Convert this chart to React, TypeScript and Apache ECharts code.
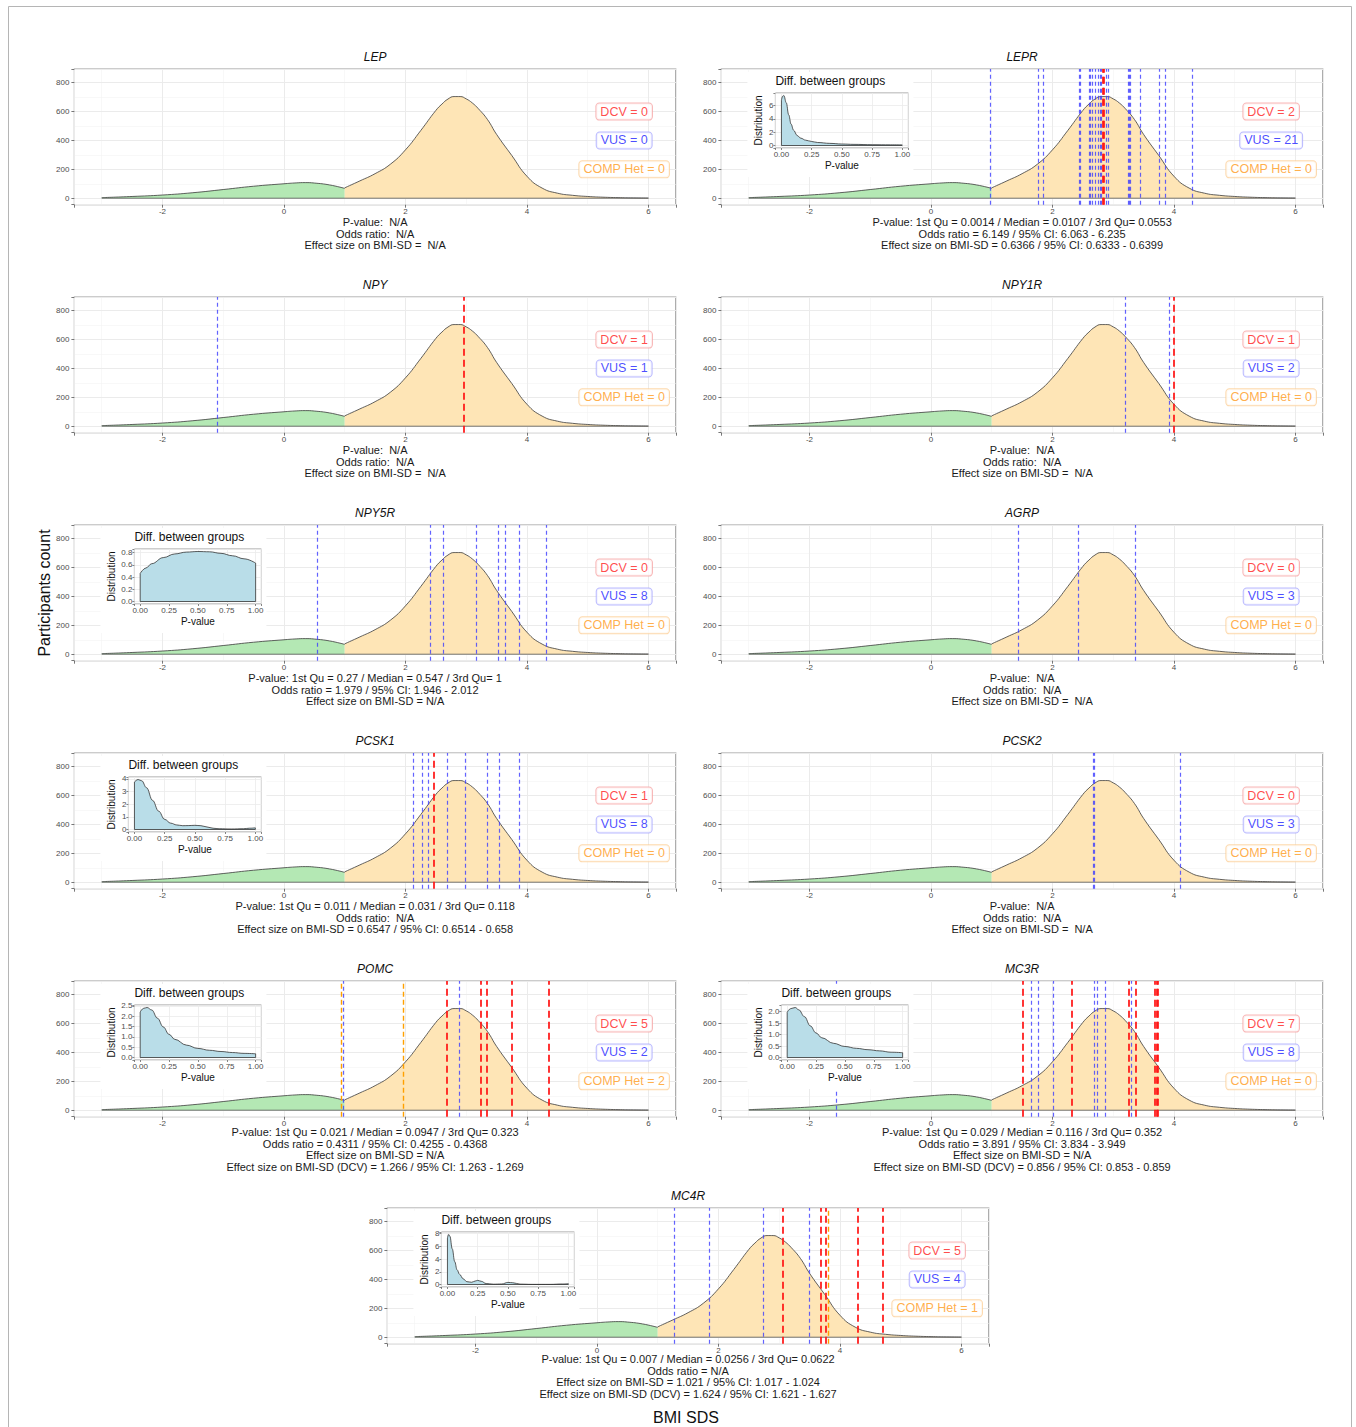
import { useEffect, useRef } from "react";
import * as echarts from "echarts";

const FONT = '"Liberation Sans", Arial, Helvetica, sans-serif';

// ---- Shared BMI SDS distribution (participants count) ----
const BMI_LOW_X = [-3, -2.5, -2, -1.5, -1, -0.5, 0, 0.2, 0.35, 0.5, 0.75, 1];
const BMI_LOW_Y = [4, 12, 22, 38, 60, 83, 100, 106, 108, 105, 92, 68];
const BMI_HIGH_X = [1, 1.25, 1.5, 1.75, 2, 2.25, 2.5, 2.6, 2.7, 2.8, 2.9, 3, 3.1, 3.2, 3.35, 3.5, 3.75, 4, 4.25, 4.5, 4.75, 5, 5.25, 5.5, 5.75, 6];
const BMI_HIGH_Y = [72, 120, 170, 235, 335, 468, 608, 652, 687, 704, 704, 688, 660, 620, 545, 442, 296, 152, 70, 35, 20, 12, 7, 4, 2, 1];

// ---- Genes and variant positions (BMI SDS) ----
const GENES = ["LEP", "LEPR", "NPY", "NPY1R", "NPY5R", "AGRP", "PCSK1", "PCSK2", "POMC", "MC3R", "MC4R"];

const DCV: number[][] = [
  [],
  [2.82, 2.85],
  [2.96],
  [3.99],
  [],
  [],
  [2.47],
  [],
  [2.68, 3.24, 3.34, 3.75, 4.36],
  [1.51, 2.31, 3.25, 3.37, 3.69, 3.71, 3.73],
  [3.05, 3.68, 3.76, 4.29, 4.71],
];

const VUS: number[][] = [
  [],
  [0.98, 1.76, 1.85, 2.44, 2.46, 2.6, 2.63, 2.66, 2.71, 2.75, 2.78, 2.8, 2.88, 2.92, 3.25, 3.26, 3.28, 3.44, 3.75, 3.85, 4.3],
  [-1.1],
  [3.2, 3.92],
  [0.54, 2.4, 2.62, 3.16, 3.53, 3.65, 3.88, 4.31],
  [1.44, 2.42, 3.36],
  [2.13, 2.28, 2.38, 2.68, 2.99, 3.34, 3.54, 3.88],
  [2.67, 2.69, 4.1],
  [0.97, 2.88],
  [-1.56, 1.65, 1.76, 2.01, 2.69, 2.74, 2.87, 3.29],
  [1.28, 1.85, 2.73, 3.49],
];

const COMP_HET: number[][] = [[], [], [], [], [], [], [], [], [0.94, 1.97], [], [3.81]];

const NA3 = ["P-value:  N/A", "Odds ratio:  N/A", "Effect size on BMI-SD =  N/A"];
const STATS: string[][] = [
  NA3,
  [
    "P-value: 1st Qu = 0.0014 / Median = 0.0107 / 3rd Qu= 0.0553",
    "Odds ratio = 6.149 / 95% CI: 6.063 - 6.235",
    "Effect size on BMI-SD = 0.6366 / 95% CI: 0.6333 - 0.6399",
  ],
  NA3,
  NA3,
  [
    "P-value: 1st Qu = 0.27 / Median = 0.547 / 3rd Qu= 1",
    "Odds ratio = 1.979 / 95% CI: 1.946 - 2.012",
    "Effect size on BMI-SD = N/A",
  ],
  NA3,
  [
    "P-value: 1st Qu = 0.011 / Median = 0.031 / 3rd Qu= 0.118",
    "Odds ratio:  N/A",
    "Effect size on BMI-SD = 0.6547 / 95% CI: 0.6514 - 0.658",
  ],
  NA3,
  [
    "P-value: 1st Qu = 0.021 / Median = 0.0947 / 3rd Qu= 0.323",
    "Odds ratio = 0.4311 / 95% CI: 0.4255 - 0.4368",
    "Effect size on BMI-SD = N/A",
    "Effect size on BMI-SD (DCV) = 1.266 / 95% CI: 1.263 - 1.269",
  ],
  [
    "P-value: 1st Qu = 0.029 / Median = 0.116 / 3rd Qu= 0.352",
    "Odds ratio = 3.891 / 95% CI: 3.834 - 3.949",
    "Effect size on BMI-SD = N/A",
    "Effect size on BMI-SD (DCV) = 0.856 / 95% CI: 0.853 - 0.859",
  ],
  [
    "P-value: 1st Qu = 0.007 / Median = 0.0256 / 3rd Qu= 0.0622",
    "Odds ratio = N/A",
    "Effect size on BMI-SD = 1.021 / 95% CI: 1.017 - 1.024",
    "Effect size on BMI-SD (DCV) = 1.624 / 95% CI: 1.621 - 1.627",
  ],
];

// ---- Inset p-value distributions ----
const LEPR_PV = [0, 0.01, 0.02, 0.04, 0.06, 0.08, 0.1, 0.13, 0.16, 0.2, 0.25, 0.3, 0.4, 0.5, 0.6, 0.75, 0.9, 1.0];
const LEPR_DEN = [6.8, 7.4, 7.5, 6.4, 4.6, 3.2, 2.3, 1.5, 1.1, 0.8, 0.6, 0.45, 0.32, 0.22, 0.17, 0.12, 0.1, 0.09];
const NPY5R_PV = [0, 0.05, 0.1, 0.2, 0.3, 0.4, 0.5, 0.6, 0.7, 0.8, 0.9, 1.0];
const NPY5R_DEN = [0.46, 0.55, 0.62, 0.72, 0.78, 0.81, 0.82, 0.815, 0.79, 0.75, 0.7, 0.63];
const PCSK1_PV = [0, 0.03, 0.06, 0.1, 0.15, 0.2, 0.25, 0.3, 0.35, 0.4, 0.45, 0.5, 0.55, 0.6, 0.65, 0.7, 0.8, 0.9, 0.95, 1.0];
const PCSK1_DEN = [3.75, 3.95, 3.85, 3.3, 2.3, 1.45, 0.8, 0.5, 0.36, 0.3, 0.31, 0.33, 0.3, 0.2, 0.1, 0.06, 0.04, 0.06, 0.1, 0.13];
const POMC_PV = [0, 0.03, 0.06, 0.1, 0.15, 0.2, 0.25, 0.3, 0.4, 0.5, 0.6, 0.7, 0.8, 0.9, 1.0];
const POMC_DEN = [2.2, 2.38, 2.42, 2.3, 1.9, 1.48, 1.12, 0.88, 0.6, 0.44, 0.35, 0.29, 0.24, 0.2, 0.18];
const MC3R_PV = [0, 0.03, 0.07, 0.1, 0.15, 0.2, 0.25, 0.3, 0.4, 0.5, 0.6, 0.7, 0.8, 0.9, 1.0];
const MC3R_DEN = [1.97, 2.13, 2.18, 2.08, 1.78, 1.38, 1.07, 0.86, 0.62, 0.48, 0.4, 0.34, 0.29, 0.23, 0.21];
const MC4R_PV = [0, 0.01, 0.02, 0.04, 0.06, 0.08, 0.1, 0.13, 0.16, 0.2, 0.23, 0.25, 0.28, 0.32, 0.38, 0.45, 0.5, 0.54, 0.6, 0.7, 0.85, 0.95, 1.0];
const MC4R_DEN = [7.3, 7.86, 7.6, 5.6, 3.6, 2.3, 1.6, 0.9, 0.45, 0.35, 0.55, 0.65, 0.5, 0.15, 0.05, 0.08, 0.33, 0.28, 0.06, 0.02, 0.02, 0.08, 0.13];

const INSET_GENES = ["LEPR", "NPY5R", "PCSK1", "POMC", "MC3R", "MC4R"];
const INSET_PV = [LEPR_PV, NPY5R_PV, PCSK1_PV, POMC_PV, MC3R_PV, MC4R_PV];
const INSET_DEN = [LEPR_DEN, NPY5R_DEN, PCSK1_DEN, POMC_DEN, MC3R_DEN, MC4R_DEN];
const INSET_TICK_STEP = [2, 0.2, 1, 0.5, 0.5, 2];
const INSET_TICK_DEC = [0, 1, 0, 1, 1, 0];

// ---- Layout ----
const COL_LEFT = [74.4, 721.4];
const CENTER_LEFT = 387.4;
const ROW_TOP = [69, 297, 525, 753, 981, 1208];
const PW = 601.4;
const PH = 135.7;
const X_MIN = -3.45;
const X_MAX = 6.45;
const Y_MIN = -45;
const Y_MAX = 895;

const C_VUS = "rgba(60,60,255,0.8)";
const C_DCV = "rgba(255,20,20,0.9)";
const C_COMP = "#ffa000";

function multipleOf(v: number, step: number) {
  const r = v / step;
  return Math.abs(r - Math.round(r)) < 1e-6;
}

function buildOption() {
  const grid: any[] = [];
  const xAxis: any[] = [];
  const yAxis: any[] = [];
  const series: any[] = [];
  const graphic: any[] = [];

  const txt = (x: number, y: number, text: string, extra: any = {}, elExtra: any = {}) => ({
    type: "text",
    x,
    y,
    z: 30,
    silent: true,
    ...elExtra,
    style: {
      text,
      fontFamily: FONT,
      fontSize: 11,
      fill: "#1a1a1a",
      align: "center",
      textAlign: "center",
      verticalAlign: "middle",
      textVerticalAlign: "middle",
      ...extra,
    },
  });

  const pos = GENES.map((_, i) =>
    i < 10 ? { left: COL_LEFT[i % 2], top: ROW_TOP[Math.floor(i / 2)] } : { left: CENTER_LEFT, top: ROW_TOP[5] }
  );

  GENES.forEach((gene, i) => {
    const { left, top } = pos[i];
    const gi = grid.length;
    grid.push({
      left,
      top,
      width: PW,
      height: PH,
      show: true,
      borderColor: "#9a9a9a",
      borderWidth: 1.2,
      backgroundColor: "#fff",
      containLabel: false,
      outerBoundsMode: "none",
      z: 0,
    });
    xAxis.push({
      gridIndex: gi,
      type: "value",
      min: X_MIN,
      max: X_MAX,
      splitNumber: 10,
      position: "bottom",
      axisLine: { show: false, onZero: false },
      axisTick: { show: false },
      axisLabel: { show: false },
      splitLine: { show: true, lineStyle: { color: "#f4f4f4", width: 0.6 } },
      z: 0,
    });
    const xMajor = xAxis.length;
    xAxis.push({
      gridIndex: gi,
      type: "value",
      min: X_MIN,
      max: X_MAX,
      splitNumber: 5,
      position: "bottom",
      axisLine: { show: false, onZero: false },
      axisTick: { show: true, length: 3, lineStyle: { color: "#555", width: 0.8 } },
      axisLabel: {
        fontSize: 8,
        color: "#4d4d4d",
        fontFamily: FONT,
        margin: 3,
        formatter: (v: number) => (multipleOf(v, 2) ? String(Math.round(v)) : ""),
      },
      splitLine: { show: true, lineStyle: { color: "#ebebeb", width: 1 } },
      z: 1,
    });
    yAxis.push({
      gridIndex: gi,
      type: "value",
      min: Y_MIN,
      max: Y_MAX,
      splitNumber: 10,
      position: "left",
      axisLine: { show: false, onZero: false },
      axisTick: { show: false },
      axisLabel: { show: false },
      splitLine: { show: true, lineStyle: { color: "#f4f4f4", width: 0.6 } },
      z: 0,
    });
    const yMajor = yAxis.length;
    yAxis.push({
      gridIndex: gi,
      type: "value",
      min: Y_MIN,
      max: Y_MAX,
      splitNumber: 5,
      position: "left",
      axisLine: { show: false, onZero: false },
      axisTick: { show: true, length: 3, lineStyle: { color: "#555", width: 0.8 } },
      axisLabel: {
        fontSize: 8,
        color: "#4d4d4d",
        fontFamily: FONT,
        margin: 5,
        formatter: (v: number) => (multipleOf(v, 200) ? String(Math.round(v)) : ""),
      },
      splitLine: { show: true, lineStyle: { color: "#ebebeb", width: 1 } },
      z: 1,
    });

    const ax = { xAxisIndex: xMajor, yAxisIndex: yMajor };

    series.push({
      type: "line",
      ...ax,
      data: BMI_LOW_X.map((x, k) => [x, BMI_LOW_Y[k]]),
      smooth: 0.5,
      showSymbol: false,
      symbol: "none",
      silent: true,
      lineStyle: { color: "#3a3a3a", width: 0.8 },
      areaStyle: { color: "#b4e8b4", opacity: 1 },
      z: 2,
    });
    series.push({
      type: "line",
      ...ax,
      data: BMI_HIGH_X.map((x, k) => [x, BMI_HIGH_Y[k]]),
      smooth: 0.5,
      showSymbol: false,
      symbol: "none",
      silent: true,
      lineStyle: { color: "#3a3a3a", width: 0.8 },
      areaStyle: { color: "#fee5b6", opacity: 1 },
      z: 2,
    });

    const vlines: any[] = [];
    VUS[i].forEach((v) => vlines.push({ xAxis: v, lineStyle: { color: C_VUS, width: 1.2, type: [4, 3] } }));
    COMP_HET[i].forEach((v) => vlines.push({ xAxis: v, lineStyle: { color: C_COMP, width: 1.4, type: [5, 3] } }));
    DCV[i].forEach((v) => vlines.push({ xAxis: v, lineStyle: { color: C_DCV, width: 1.9, type: [7, 4] } }));

    series.push({
      type: "line",
      ...ax,
      data: [
        [BMI_LOW_X[0], 0],
        [BMI_HIGH_X[BMI_HIGH_X.length - 1], 0],
      ],
      showSymbol: false,
      symbol: "none",
      silent: true,
      lineStyle: { color: "#555", width: 0.8 },
      z: 3,
      markLine: {
        silent: true,
        symbol: ["none", "none"],
        label: { show: false },
        emphasis: { disabled: true },
        z: 5,
        data: vlines,
      },
    });

    const lab = (y: number, text: string, color: string, border: string) => ({
      value: [5.6, y],
      label: { formatter: text, color, borderColor: border },
    });
    series.push({
      type: "scatter",
      ...ax,
      symbolSize: 1,
      silent: true,
      itemStyle: { color: "rgba(0,0,0,0)" },
      z: 6,
      label: {
        show: true,
        position: "inside",
        fontSize: 12.5,
        fontFamily: FONT,
        backgroundColor: "#fff",
        borderWidth: 1,
        borderRadius: 3,
        padding: [2, 4, 1, 4],
        textBorderWidth: 0,
      },
      data: [
        lab(600, `DCV = ${DCV[i].length}`, "#ff1c1c", "#f6a5a5"),
        lab(400, `VUS = ${VUS[i].length}`, "#1c1cff", "#a8a8ff"),
        lab(200, `COMP Het = ${COMP_HET[i].length}`, "#ff9a1a", "#fdcf98"),
      ],
    });

    // Title and statistics text
    const cx = left + PW / 2;
    graphic.push(txt(cx, top - 12, gene, { fontSize: 12, fontStyle: "italic", fill: "#111" }));
    const lines = STATS[i];
    const y0 = top + (lines.length > 3 ? 151 : 153);
    lines.forEach((ln, k) => graphic.push(txt(cx, y0 + k * 11.7, ln)));

    // Inset
    const ii = INSET_GENES.indexOf(gene);
    if (ii >= 0) {
      const dec = INSET_TICK_DEC[ii];
      const step = INSET_TICK_STEP[ii];
      const den = INSET_DEN[ii];
      const pv = INSET_PV[ii];
      const dmax = Math.max(...den);
      const yLo = -0.05 * dmax;
      const yHi = 1.05 * dmax;
      const split = Math.max(1, Math.round((yHi - yLo) / step));
      const il = left + (dec ? 60 : 54);
      const ir = left + 187;
      const it = top + 24;
      const ih = 55;

      graphic.push({
        type: "rect",
        z: 10,
        silent: true,
        shape: { x: left + 26, y: top + 3, width: 166, height: 105 },
        style: { fill: "#fff" },
      });

      const igi = grid.length;
      grid.push({
        left: il,
        top: it,
        width: ir - il,
        height: ih,
        show: true,
        borderColor: "#9a9a9a",
        borderWidth: 1,
        backgroundColor: "#fff",
        containLabel: false,
        outerBoundsMode: "none",
        z: 20,
      });
      const ixi = xAxis.length;
      xAxis.push({
        gridIndex: igi,
        type: "value",
        min: -0.2,
        max: 4.2,
        splitNumber: 4,
        position: "bottom",
        axisLine: { show: false, onZero: false },
        axisTick: { show: true, length: 2, lineStyle: { color: "#555", width: 0.7 } },
        axisLabel: {
          fontSize: 8,
          color: "#4d4d4d",
          fontFamily: FONT,
          margin: 2,
          formatter: (v: number) => (multipleOf(v, 1) ? (v / 4).toFixed(2) : ""),
        },
        splitLine: { show: true, lineStyle: { color: "#ebebeb", width: 0.8 } },
        z: 21,
      });
      const iyi = yAxis.length;
      yAxis.push({
        gridIndex: igi,
        type: "value",
        min: yLo,
        max: yHi,
        splitNumber: split,
        position: "left",
        axisLine: { show: false, onZero: false },
        axisTick: { show: true, length: 2, lineStyle: { color: "#555", width: 0.7 } },
        axisLabel: {
          fontSize: 8,
          color: "#4d4d4d",
          fontFamily: FONT,
          margin: 2,
          formatter: (v: number) => (multipleOf(v, step) ? v.toFixed(dec) : ""),
        },
        splitLine: { show: true, lineStyle: { color: "#ebebeb", width: 0.8 } },
        z: 21,
      });
      series.push({
        type: "line",
        xAxisIndex: ixi,
        yAxisIndex: iyi,
        data: pv.map((p, k) => [p * 4, den[k]]),
        smooth: 0.4,
        smoothMonotone: "x",
        showSymbol: false,
        symbol: "none",
        silent: true,
        lineStyle: { color: "#333", width: 0.8 },
        areaStyle: { color: "#b9dde8", opacity: 1 },
        z: 22,
      });
      series.push({
        type: "line",
        xAxisIndex: ixi,
        yAxisIndex: iyi,
        data: [
          [pv[0] * 4, den[0]],
          [pv[0] * 4, 0],
          [pv[pv.length - 1] * 4, 0],
          [pv[pv.length - 1] * 4, den[den.length - 1]],
        ],
        showSymbol: false,
        symbol: "none",
        silent: true,
        lineStyle: { color: "#333", width: 0.8 },
        z: 22,
      });
      graphic.push(
        txt(il, top + 12, "Diff. between groups", {
          fontSize: 12,
          align: "left",
          textAlign: "left",
          fill: "#111",
        })
      );
      graphic.push(txt((il + ir) / 2, top + 96, "P-value", { fontSize: 10, fill: "#111" }));
      graphic.push(
        txt(il - (dec ? 23 : 17), it + ih / 2, "Distribution", { fontSize: 10, fill: "#111" }, { rotation: Math.PI / 2 })
      );
    }
  });

  graphic.push(txt(44, 593, "Participants count", { fontSize: 16, fill: "#111" }, { rotation: Math.PI / 2 }));
  graphic.push(txt(686, 1417, "BMI SDS", { fontSize: 16, fill: "#111" }));
  graphic.push({
    type: "rect",
    z: 30,
    silent: true,
    shape: { x: 8.5, y: 6.5, width: 1343, height: 1440 },
    style: { fill: "none", stroke: "#b5b5b5", lineWidth: 1 },
  });

  return {
    animation: false,
    backgroundColor: "#fff",
    textStyle: { fontFamily: FONT },
    grid,
    xAxis,
    yAxis,
    series,
    graphic: { elements: graphic },
  };
}

export default function App() {
  const ref = useRef<HTMLDivElement>(null);
  useEffect(() => {
    if (!ref.current) return;
    const chart = echarts.init(ref.current, null, { renderer: "svg" });
    chart.setOption(buildOption());
    return () => chart.dispose();
  }, []);
  return (
    <div
      ref={ref}
      style={{ position: "absolute", left: 0, top: 0, width: 1356, height: 1427, background: "#fff" }}
    />
  );
}
